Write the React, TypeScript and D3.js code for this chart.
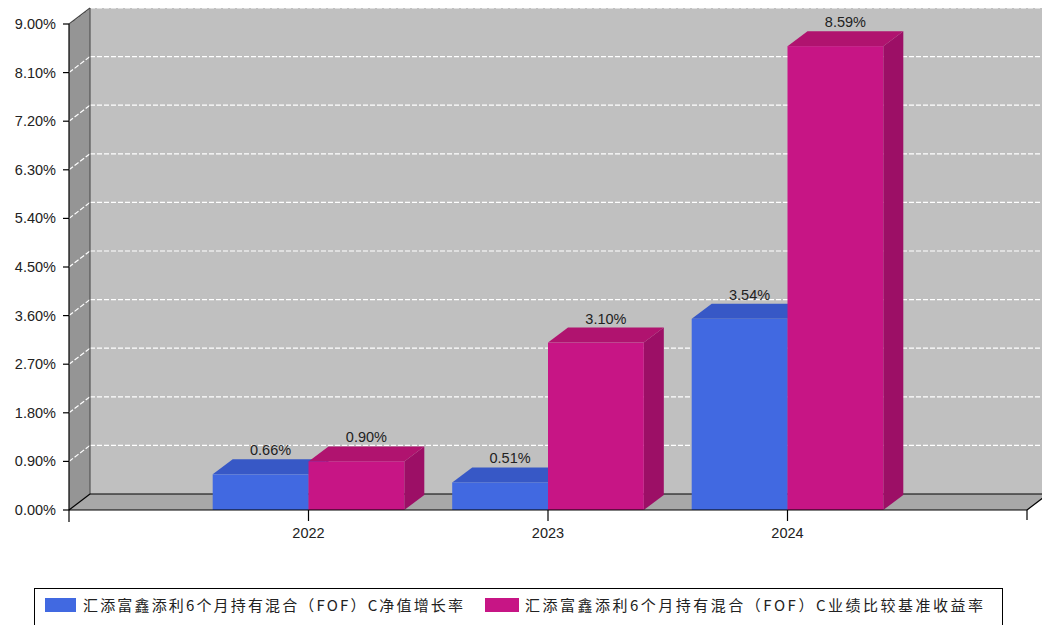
import * as d3 from 'd3';
import * as React from 'react';

const years = ['2022', '2023', '2024'];
const navGrowth = [0.66, 0.51, 3.54];
const benchmark = [0.9, 3.1, 8.59];
const seriesNames = [
  '汇添富鑫添利6个月持有混合（FOF）C净值增长率',
  '汇添富鑫添利6个月持有混合（FOF）C业绩比较基准收益率',
];
const yTicks = [0, 0.9, 1.8, 2.7, 3.6, 4.5, 5.4, 6.3, 7.2, 8.1, 9.0];

const palette = [
  { front: '#4169e1', top: '#3758c6', side: '#2f4cae' },
  { front: '#c71585', top: '#b0136f', side: '#9c0f66' },
];

const W = 1042;
const H = 625;
const left = 69;
const right = 1027;
const wallDx = 21;
const wallDy = -16;
const barDx = 20;
const barDy = -15;
const font = '"Liberation Sans", Arial, sans-serif';

export default function App() {
  const y = d3.scaleLinear().domain([0, 9]).range([510, 24]);
  const x = d3.scaleLinear().domain([0, years.length + 1]).range([left, right]);
  const step = x(1) - x(0);
  const groupW = step * 0.8;
  const barW = groupW / 2;
  const y0 = y(0);
  const yTop = y(9);
  const backRight = W + 8;

  const pts = (p: number[][]) => p.map((d) => d.join(',')).join(' ');
  const series = [navGrowth, benchmark];

  return (
    <svg
      width={W}
      height={H}
      style={{ position: 'absolute', left: 0, top: 0, background: '#fff' }}
    >
      {/* walls */}
      <rect x={left + wallDx} y={yTop + wallDy} width={backRight - left - wallDx} height={y0 - yTop} fill="#c0c0c0" />
      <polygon
        points={pts([[left, yTop], [left + wallDx, yTop + wallDy], [left + wallDx, y0 + wallDy], [left, y0]])}
        fill="#959595"
      />
      <polygon
        points={pts([[left, y0], [left + wallDx, y0 + wallDy], [backRight, y0 + wallDy], [right, y0]])}
        fill="#a8a8a8"
      />

      {/* grid */}
      {yTicks.filter((t) => t > 0).map((t) => (
        <g key={t} stroke="#fff" strokeDasharray="5,2" strokeWidth={1.2}>
          <line x1={left} y1={y(t)} x2={left + wallDx} y2={y(t) + wallDy} />
          <line x1={left + wallDx} y1={y(t) + wallDy} x2={backRight} y2={y(t) + wallDy} />
        </g>
      ))}

      {/* wall edges */}
      <g stroke="#000" strokeWidth={1.2} fill="none">
        <line x1={left + wallDx} y1={yTop + wallDy} x2={left + wallDx} y2={y0 + wallDy} stroke="#555" />
        <line x1={left} y1={yTop} x2={left + wallDx} y2={yTop + wallDy} stroke="#444" />
        <line x1={left + wallDx} y1={y0 + wallDy} x2={backRight} y2={y0 + wallDy} />
        <line x1={left} y1={y0} x2={left + wallDx} y2={y0 + wallDy} />
        <line x1={right} y1={y0} x2={right + wallDx} y2={y0 + wallDy} />
      </g>

      {/* bars */}
      {years.map((yr, i) => {
        const cx = x(i + 1);
        return (
          <g key={yr}>
            {series.map((vals, j) => {
              const v = vals[i];
              const x0 = cx - groupW / 2 + j * barW;
              const yv = y(v);
              const c = palette[j];
              return (
                <g key={j}>
                  <polygon
                    points={pts([[x0 + barW, yv], [x0 + barW + barDx, yv + barDy], [x0 + barW + barDx, y0 + barDy], [x0 + barW, y0]])}
                    fill={c.side}
                  />
                  <polygon
                    points={pts([[x0, yv], [x0 + barDx, yv + barDy], [x0 + barW + barDx, yv + barDy], [x0 + barW, yv]])}
                    fill={c.top}
                  />
                  <rect x={x0} y={yv} width={barW} height={y0 - yv} fill={c.front} />
                </g>
              );
            })}
          </g>
        );
      })}

      {/* value labels */}
      {years.map((yr, i) =>
        series.map((vals, j) => {
          const v = vals[i];
          const x0 = x(i + 1) - groupW / 2 + j * barW;
          return (
            <text
              key={`${yr}-${j}`}
              x={x0 + barW / 2 + barDx / 2}
              y={y(v) + barDy - 4}
              textAnchor="middle"
              fontFamily={font}
              fontSize={14.5}
              fill="#222"
            >
              {v.toFixed(2)}%
            </text>
          );
        }),
      )}

      {/* axes */}
      <g stroke="#000" strokeWidth={1.2}>
        <line x1={left} y1={yTop} x2={left} y2={y0 + 12} />
        <line x1={left} y1={y0} x2={right} y2={y0} />
        <line x1={right} y1={y0} x2={right} y2={y0 + 10} />
        {yTicks.map((t) => (
          <line key={t} x1={left - 6} y1={y(t)} x2={left} y2={y(t)} />
        ))}
        {years.map((yr, i) => (
          <line key={yr} x1={x(i + 1)} y1={y0} x2={x(i + 1)} y2={y0 + 11} />
        ))}
      </g>
      {yTicks.map((t) => (
        <text
          key={t}
          x={left - 13}
          y={y(t) + 5}
          textAnchor="end"
          fontFamily={font}
          fontSize={14.5}
          fill="#222"
        >
          {t.toFixed(2)}%
        </text>
      ))}
      {years.map((yr, i) => (
        <text
          key={yr}
          x={x(i + 1)}
          y={y0 + 28}
          textAnchor="middle"
          fontFamily={font}
          fontSize={14.5}
          fill="#222"
        >
          {yr}
        </text>
      ))}

      {/* legend */}
      <rect x={34.5} y={588.5} width={968} height={60} fill="#fff" stroke="#000" strokeWidth={1} />
      <rect x={45} y={598} width={31} height={14} fill={palette[0].front} />
      <text x={83} y={611} fontFamily='"Noto Sans CJK SC", sans-serif' fontSize={15} fill="#222" textLength={380} lengthAdjust="spacing">
        {seriesNames[0]}
      </text>
      <rect x={485} y={598} width={34} height={14} fill={palette[1].front} />
      <text x={525} y={611} fontFamily='"Noto Sans CJK SC", sans-serif' fontSize={15} fill="#222" textLength={458} lengthAdjust="spacing">
        {seriesNames[1]}
      </text>
    </svg>
  );
}
